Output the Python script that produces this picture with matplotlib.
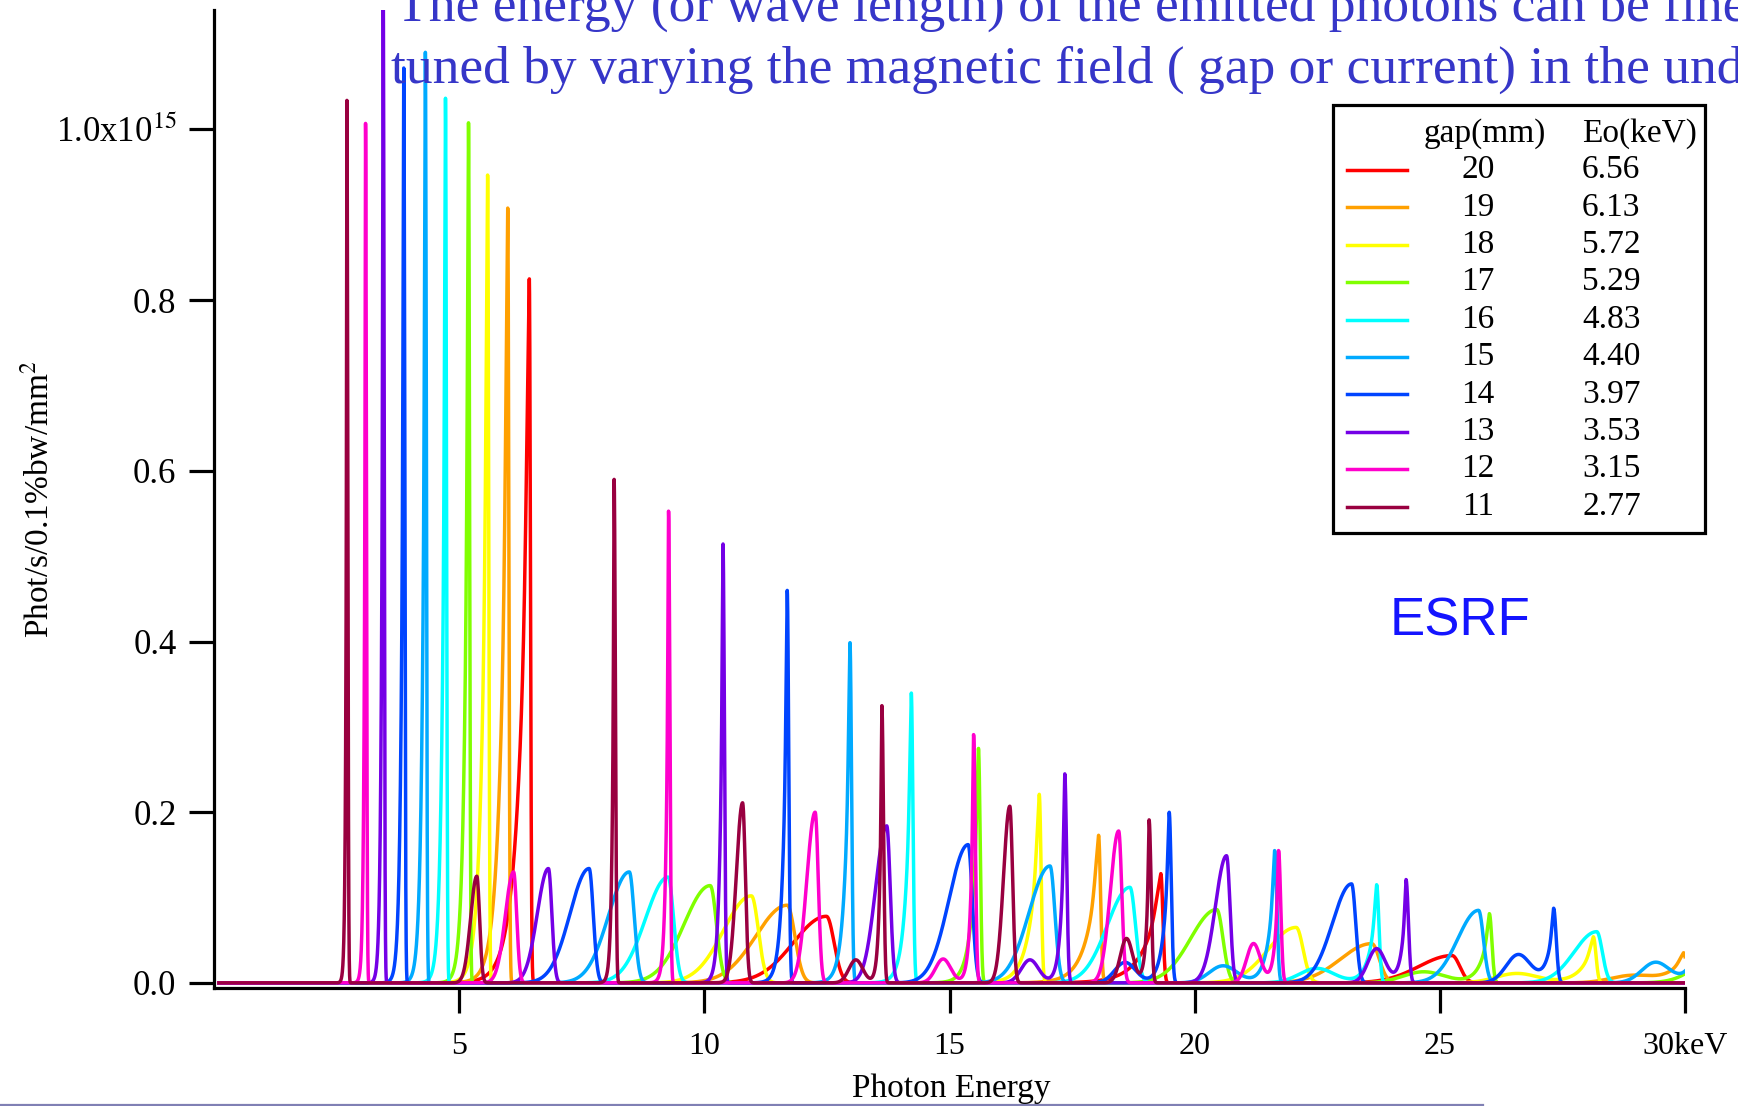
import matplotlib
matplotlib.use("Agg")
import matplotlib.pyplot as plt
import numpy as np
from matplotlib.lines import Line2D
from matplotlib.patches import Rectangle

plt.rcParams["font.family"] = ["Liberation Serif", "DejaVu Serif"]
plt.rcParams["mathtext.fontset"] = "stix"

nan = np.nan

# undulator gaps, listed as in the legend
gap_mm = [20, 19, 18, 17, 16, 15, 14, 13, 12, 11]
e0_kev = [6.56, 6.13, 5.72, 5.29, 4.83, 4.40, 3.97, 3.53, 3.15, 2.77]
line_colors = ["#ff0000", "#ffa000", "#ffff00", "#80ff00", "#00ffff",
               "#00aaff", "#0044ff", "#7400e6", "#ff00cc", "#990040"]

# harmonic peaks (keV, 1e15 ph/s/0.1%bw/mm2)
h1_pos = [6.43, 5.99, 5.58, 5.19, 4.72, 4.31, 3.87, 3.45, 3.09, 2.71]
h1_amp = [0.826, 0.908, 0.947, 1.008, 1.038, 1.091, 1.075, 1.17, 1.008, 1.035]
h2_pos = [12.49, 11.69, 10.96, 10.12, 9.26, 8.47, 7.65, 6.82, 6.11, 5.36]
h2_amp = [0.078, 0.091, 0.102, 0.114, 0.124, 0.130, 0.134, 0.134, 0.130, 0.125]
h3_pos = [19.31, 18.04, 16.83, 15.59, 14.22, 12.97, 11.69, 10.38, 9.27, 8.16]
h3_amp = [0.128, 0.173, 0.221, 0.275, 0.340, 0.399, 0.460, 0.515, 0.553, 0.590]
h4_pos = [25.25, 23.61, 22.07, 20.45, 18.68, 17.05, 15.38, 13.72, 12.26, 10.78]
h4_amp = [0.032, 0.046, 0.065, 0.086, 0.112, 0.137, 0.162, 0.184, 0.200, 0.211]
h5_pos = [nan, 29.97, 28.13, 26.01, 23.71, 21.63, 19.48, 17.35, 15.49, 13.62]
h5_amp = [nan, 0.035, 0.054, 0.081, 0.115, 0.155, 0.200, 0.245, 0.291, 0.325]
h6_pos = [nan, nan, nan, 30.9, 28.20, 25.79, 23.20, 20.65, 18.45, 16.23]
h6_amp = [nan, nan, nan, 0.045, 0.060, 0.085, 0.116, 0.149, 0.178, 0.207]
h7_pos = [nan, nan, nan, nan, nan, 30.25, 27.32, 24.31, 21.71, 19.07]
h7_amp = [nan, nan, nan, nan, nan, 0.065, 0.087, 0.121, 0.155, 0.191]

# low-energy side bumps of the 5th and 7th harmonics
w5_pos = [nan, 28.9, 26.57, 24.67, 22.49, 20.58, 18.58, 16.64, 14.87, 13.09]
w5_amp = [nan, 0.008, 0.011, 0.013, 0.017, 0.020, 0.024, 0.027, 0.028, 0.027]
w5_sig = [nan, 0.6, 0.6, 0.6, 0.5, 0.4, 0.3, 0.25, 0.22, 0.2]
w7_pos = [nan, nan, nan, nan, nan, 29.40, 26.60, 23.71, 21.20, 18.61]
w7_amp = [nan, nan, nan, nan, nan, 0.024, 0.033, 0.040, 0.046, 0.052]
w7_sig = [nan, nan, nan, nan, nan, 0.4, 0.35, 0.25, 0.2, 0.18]

# line shape widths (keV)
odd_tail = [0.20, 0.14, 0.11, 0.075, 0.065, 0.06, 0.05, 0.035, 0.028, 0.022]
even_wl = [0.95, 0.90, 0.80, 0.75, 0.65, 0.60, 0.55, 0.32, 0.24, 0.18]
even_wr = [0.22, 0.22, 0.20, 0.18, 0.16, 0.14, 0.12, 0.10, 0.09, 0.08]


def gauss_peak(e, pos, amp, wl, wr):
    d = e - pos
    w = np.where(d < 0, wl, wr)
    return amp * np.exp(-(d / w) ** 2)


def odd_peak(e, pos, amp, tail, wr):
    # exponential low-energy tail, steep gaussian high-energy edge
    d = e - pos
    left = np.exp(np.minimum(d, 0) / tail)
    core = np.exp(-(d / (0.4 * tail)) ** 2)
    shape = np.where(d < 0, 0.85 * left + 0.15 * core, np.exp(-(d / wr) ** 2))
    return amp * shape


def spectrum(e, i):
    y = np.zeros_like(e)
    odd = [(h1_pos, h1_amp, 1), (h3_pos, h3_amp, 3), (h5_pos, h5_amp, 5), (h7_pos, h7_amp, 7)]
    for pos_l, amp_l, n in odd:
        pos, amp = pos_l[i], amp_l[i]
        if np.isnan(pos):
            continue
        y += odd_peak(e, pos, amp, odd_tail[i] * np.sqrt(n), 0.02 + 0.002 * pos)
    for pos_l, amp_l, sig_l in [(w5_pos, w5_amp, w5_sig), (w7_pos, w7_amp, w7_sig)]:
        if np.isnan(pos_l[i]):
            continue
        y += gauss_peak(e, pos_l[i], amp_l[i], sig_l[i], sig_l[i])
    for pos_l, amp_l in [(h2_pos, h2_amp), (h4_pos, h4_amp), (h6_pos, h6_amp)]:
        if np.isnan(pos_l[i]):
            continue
        y += gauss_peak(e, pos_l[i], amp_l[i], even_wl[i], even_wr[i])
    return y


W, H = 1738, 1106
fig = plt.figure(figsize=(W / 100, H / 100), dpi=100)
ax = fig.add_axes([214 / W, 1 - 988 / H, (1685 - 214) / W, (988 - 10) / H])

energy = np.linspace(0.1, 30.5, 16000)
for i in range(len(gap_mm)):
    ax.plot(energy, spectrum(energy, i), color=line_colors[i], lw=2.5,
            solid_joinstyle="round")

ax.set_xlim(0, 30)
ax.set_ylim(-0.006, 1.14)
for side in ("top", "right"):
    ax.spines[side].set_visible(False)
for side in ("left", "bottom"):
    ax.spines[side].set_linewidth(2.3)

ax.set_xticks([5, 10, 15, 20, 25, 30])
ax.set_xticklabels(["5", "10", "15", "20", "25", "30keV"])
ax.set_yticks([0.0, 0.2, 0.4, 0.6, 0.8, 1.0])
ax.set_yticklabels(["0.0", "0.2", "0.4", "0.6", "0.8", r"1.0x10$^{15}$"])
ax.tick_params(axis="x", direction="out", length=18, width=2.3, labelsize=23, pad=14)
ax.tick_params(axis="y", direction="out", length=18, width=2.3, labelsize=25, pad=9)

fig.text(951 / W, 1 - 1097 / H, "Photon Energy", ha="center", va="baseline", fontsize=24)
fig.text(39 / W, 1 - 499 / H, r"Phot/s/0.1%bw/mm$^{2}$", rotation=90,
         ha="center", va="center", fontsize=24)

title_color = "#3636c8"
fig.text(396 / W, 1 - 21 / H, "The energy (or wave length) of the emitted photons can be fine",
         ha="left", va="baseline", fontsize=38.5, color=title_color)
fig.text(391 / W, 1 - 83 / H, "tuned by varying the magnetic field ( gap or current) in the undulator",
         ha="left", va="baseline", fontsize=38.5, color=title_color)

fig.text(1460 / W, 1 - 621 / H, "ESRF", ha="center", va="center", fontsize=38,
         color="#1414ff", family="Liberation Sans")

# legend box drawn by hand to keep the two-column table layout
fig.patches.append(Rectangle((1333 / W, 1 - 533 / H), 372 / W, 428 / H,
                             transform=fig.transFigure, facecolor="white",
                             edgecolor="black", lw=2.3, zorder=5))
fig.text(1485 / W, 1 - 134 / H, "gap(mm)", ha="center", va="center", fontsize=24, zorder=6)
fig.text(1582 / W, 1 - 134 / H, "Eo(keV)", ha="left", va="center", fontsize=24, zorder=6)
for k, (g, e0, c) in enumerate(zip(gap_mm, e0_kev, line_colors)):
    yy = 1 - (170 + 37.4 * k) / H
    fig.lines.append(Line2D([1347 / W, 1407 / W], [yy, yy], transform=fig.transFigure,
                            color=c, lw=2.5, zorder=6))
    fig.text(1478 / W, yy, str(g), ha="center", va="center", fontsize=24, zorder=6)
    fig.text(1582 / W, yy, f"{e0:.2f}", ha="left", va="center", fontsize=24, zorder=6)

# slide border remnant at the bottom
fig.lines.append(Line2D([0, 1483 / W], [1 - 1104.5 / H, 1 - 1104.5 / H],
                        transform=fig.transFigure, color="#8080b4", lw=1.6))

fig.savefig("out.png", dpi=100)
